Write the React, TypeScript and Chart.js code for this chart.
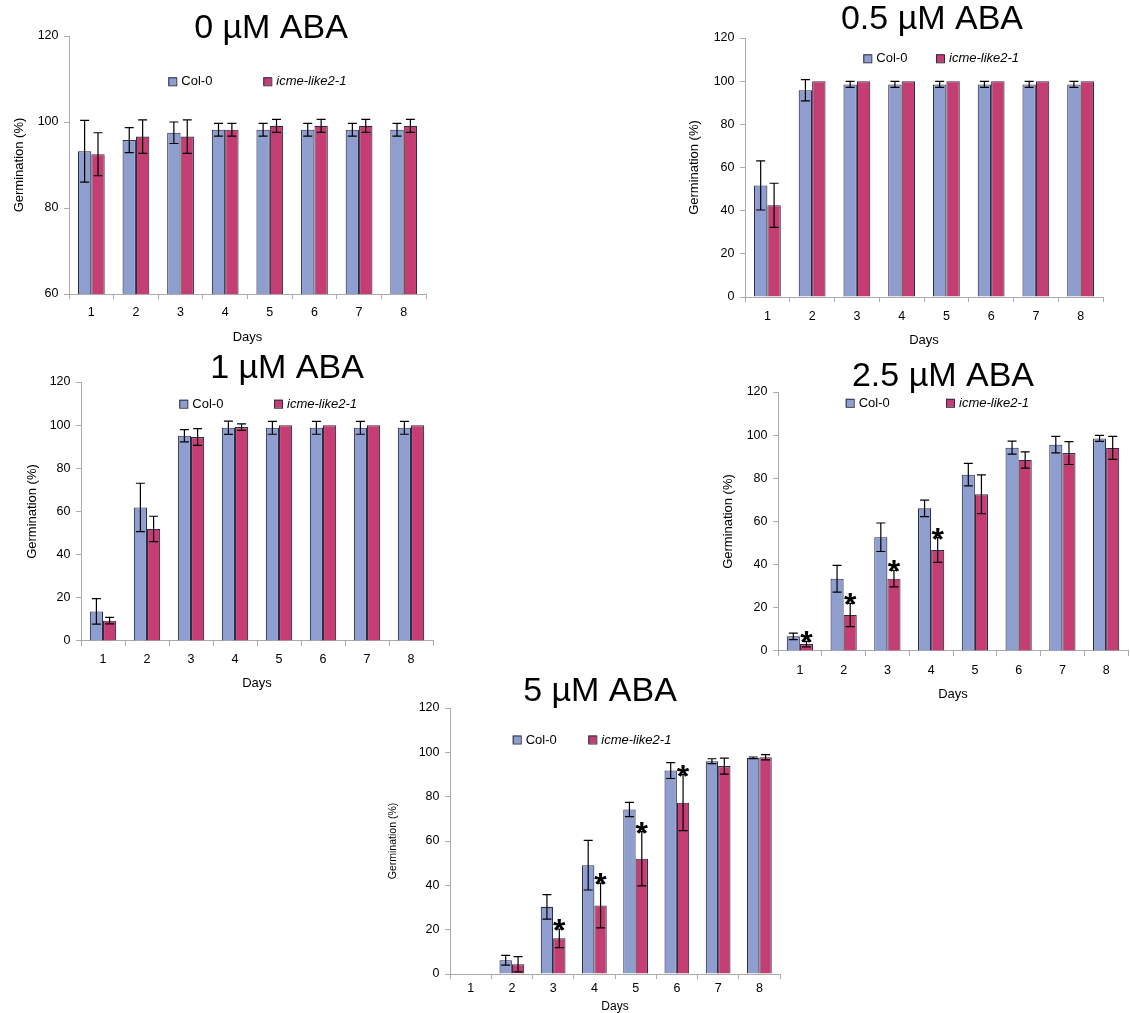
import React, { useEffect, useRef } from 'react';
import { Chart, registerables } from 'chart.js';

Chart.register(...registerables);

// ---------- data ----------
const days = ['1', '2', '3', '4', '5', '6', '7', '8'];
const seriesNames = ['Col-0', 'icme-like2-1'];

const col0_0 = [93.2, 95.8, 97.5, 98.2, 98.2, 98.2, 98.2, 98.2];
const col0_0Err = [7.2, 2.9, 2.5, 1.5, 1.5, 1.5, 1.5, 1.5];
const icme_0 = [92.5, 96.6, 96.6, 98.2, 99.1, 99.1, 99.1, 99.1];
const icme_0Err = [5.0, 3.9, 3.9, 1.5, 1.5, 1.5, 1.5, 1.5];
const sig_0 = [0, 0, 0, 0, 0, 0, 0, 0];

const col0_05 = [51.7, 95.8, 98.5, 98.5, 98.5, 98.5, 98.5, 98.5];
const col0_05Err = [11.4, 4.9, 1.4, 1.4, 1.4, 1.4, 1.4, 1.4];
const icme_05 = [42.5, 100, 100, 100, 100, 100, 100, 100];
const icme_05Err = [10.2, 0, 0, 0, 0, 0, 0, 0];
const sig_05 = [0, 0, 0, 0, 0, 0, 0, 0];

const col0_1 = [13.7, 61.9, 95.1, 98.8, 98.8, 98.8, 98.8, 98.8];
const col0_1Err = [5.9, 11.2, 2.8, 3.1, 3.0, 3.0, 3.0, 3.0];
const icme_1 = [9.4, 51.9, 94.5, 99.1, 100, 100, 100, 100];
const icme_1Err = [1.5, 5.9, 3.9, 1.5, 0, 0, 0, 0];
const sig_1 = [0, 0, 0, 0, 0, 0, 0, 0];

const col0_25 = [6.8, 33.5, 52.7, 66.1, 81.7, 94.2, 95.6, 98.5];
const col0_25Err = [1.5, 6.2, 6.6, 3.8, 5.2, 3.0, 3.8, 1.4];
const icme_25 = [3.2, 16.7, 33.5, 46.8, 72.6, 88.5, 91.7, 94.1];
const icme_25Err = [1.3, 5.4, 3.8, 5.7, 9.0, 3.8, 5.3, 5.3];
const sig_25 = [1, 1, 1, 1, 0, 0, 0, 0];

const col0_5 = [0, 6.2, 30.3, 49.1, 74.2, 91.8, 96.0, 97.5];
const col0_5Err = [0, 2.2, 5.5, 11.2, 3.2, 3.6, 1.1, 0.4];
const icme_5 = [0, 4.4, 16.1, 30.9, 52.0, 77.3, 93.8, 97.8];
const icme_5Err = [0, 3.4, 4.2, 10.1, 12.2, 12.6, 3.6, 1.2];
const sig_5 = [0, 0, 1, 1, 1, 1, 0, 0];

const titles = ['0 µM ABA', '0.5 µM ABA', '1 µM ABA', '2.5 µM ABA', '5 µM ABA'];
const yMins = [60, 0, 0, 0, 0];
const yMax = 120;
const yStep = 20;
const xTitle = 'Days';
const yTitle = 'Germination (%)';

// ---------- styles / layout ----------
const FONT = '"Liberation Sans", Arial, Helvetica, sans-serif';
const COL_COLOR = '#8E9FCF';
const ICME_COLOR = '#C43E74';
const BAR_BORDER = '#2C2C44';
const AXIS_COLOR = '#ABABAB';

type Layout = {
  cx: number; cy: number; cw: number; ch: number;
  l: number; t: number; r: number; b: number;
  titleX: number; titleY: number;
  legY: number; legCol: number; legIcme: number;
  yTitleX: number; yTitleSize: number;
  tickY: number; daysY: number; daysSize: number;
};

const layouts: Layout[] = [
  { cx: 0, cy: 0, cw: 440, ch: 350, l: 69, t: 36, r: 426, b: 294, titleX: 271, titleY: 29,
    legY: 81.3, legCol: 168.3, legIcme: 263.3, yTitleX: 19, yTitleSize: 13, tickY: 313, daysY: 337, daysSize: 13 },
  { cx: 680, cy: 0, cw: 450, ch: 350, l: 745, t: 38, r: 1103, b: 297, titleX: 932, titleY: 20,
    legY: 58.3, legCol: 863.3, legIcme: 936, yTitleX: 694, yTitleSize: 13, tickY: 317, daysY: 340, daysSize: 13 },
  { cx: 0, cy: 350, cw: 450, ch: 350, l: 81, t: 382, r: 433, b: 641, titleX: 287, titleY: 368.3,
    legY: 403.7, legCol: 179.3, legIcme: 274, yTitleX: 32, yTitleSize: 13, tickY: 660, daysY: 683, daysSize: 13 },
  { cx: 700, cy: 355, cw: 430, ch: 350, l: 778, t: 392, r: 1128, b: 651, titleX: 943, titleY: 376.7,
    legY: 402.8, legCol: 845.7, legIcme: 946, yTitleX: 728, yTitleSize: 13, tickY: 671, daysY: 694, daysSize: 13 },
  { cx: 380, cy: 668, cw: 420, ch: 347, l: 450, t: 708, r: 780, b: 974, titleX: 600, titleY: 691.7,
    legY: 739.5, legCol: 512.7, legIcme: 588.3, yTitleX: 393, yTitleSize: 10.5, tickY: 989, daysY: 1007, daysSize: 12 },
];

type PanelData = { col: number[]; colErr: number[]; icme: number[]; icmeErr: number[]; sig: number[] };
const panelData: PanelData[] = [
  { col: col0_0, colErr: col0_0Err, icme: icme_0, icmeErr: icme_0Err, sig: sig_0 },
  { col: col0_05, colErr: col0_05Err, icme: icme_05, icmeErr: icme_05Err, sig: sig_05 },
  { col: col0_1, colErr: col0_1Err, icme: icme_1, icmeErr: icme_1Err, sig: sig_1 },
  { col: col0_25, colErr: col0_25Err, icme: icme_25, icmeErr: icme_25Err, sig: sig_25 },
  { col: col0_5, colErr: col0_5Err, icme: icme_5, icmeErr: icme_5Err, sig: sig_5 },
];

const TICK_SIZE = 12.5;
const TICK_LEN = 5;

function Panel({ idx }: { idx: number }) {
  const ref = useRef<HTMLCanvasElement>(null);
  const L = layouts[idx];
  const D = panelData[idx];

  useEffect(() => {
    const canvas = ref.current;
    if (!canvas) return;
    const errs = [D.colErr, D.icmeErr];
    const colors = [COL_COLOR, ICME_COLOR];

    const deco = {
      id: 'deco' + idx,
      afterDatasetsDraw(chart: any) {
        const ctx = chart.ctx as CanvasRenderingContext2D;
        const ys = chart.scales.y;
        ctx.save();
        // error bars
        ctx.strokeStyle = '#000';
        ctx.lineWidth = 1.2;
        for (let d = 0; d < 2; d++) {
          const meta = chart.getDatasetMeta(d);
          const vals = chart.data.datasets[d].data as number[];
          meta.data.forEach((el: any, j: number) => {
            const e = errs[d][j];
            if (!e) return;
            const v = vals[j];
            const yt = ys.getPixelForValue(v + e);
            const yb = ys.getPixelForValue(Math.max(v - e, ys.min));
            const x = el.x;
            ctx.beginPath();
            ctx.moveTo(x, yt); ctx.lineTo(x, yb);
            ctx.moveTo(x - 4.5, yt); ctx.lineTo(x + 4.5, yt);
            ctx.moveTo(x - 4.5, yb); ctx.lineTo(x + 4.5, yb);
            ctx.stroke();
          });
        }
        // significance asterisks
        const meta1 = chart.getDatasetMeta(1);
        ctx.fillStyle = '#000';
        ctx.font = `bold 32px ${FONT}`;
        ctx.textAlign = 'center';
        ctx.textBaseline = 'alphabetic';
        meta1.data.forEach((el: any, j: number) => {
          if (!D.sig[j]) return;
          const v = D.icme[j] + D.icmeErr[j];
          const y = ys.getPixelForValue(v);
          ctx.fillText('*', el.x, y + 12);
        });
        ctx.restore();
      },
      afterDraw(chart: any) {
        const ctx = chart.ctx as CanvasRenderingContext2D;
        ctx.save();
        // title
        ctx.fillStyle = '#000';
        ctx.font = `34px ${FONT}`;
        ctx.textAlign = 'center';
        ctx.textBaseline = 'middle';
        ctx.fillText(titles[idx], L.titleX - L.cx, L.titleY - L.cy);
        // legend
        const xs = [L.legCol, L.legIcme];
        const ly = L.legY - L.cy;
        for (let k = 0; k < 2; k++) {
          const bx = xs[k] - L.cx;
          ctx.fillStyle = colors[k];
          ctx.fillRect(bx, ly - 4, 8, 8);
          ctx.strokeStyle = BAR_BORDER;
          ctx.lineWidth = 1;
          ctx.strokeRect(bx + 0.5, ly - 3.5, 8, 8);
          ctx.fillStyle = '#000';
          ctx.font = (k === 1 ? 'italic ' : '') + `13px ${FONT}`;
          ctx.textAlign = 'left';
          ctx.textBaseline = 'middle';
          ctx.fillText(seriesNames[k], bx + 13, ly + 0.5);
        }
        ctx.restore();
      },
    };

    const yAxisW = L.l - L.cx;
    const xAxisH = (L.daysY - L.b) + (L.daysSize * 1.2) / 2;
    const padBottom = L.cy + L.ch - (L.b + xAxisH);
    const xTickPad = L.tickY - L.b - TICK_LEN - (TICK_SIZE * 1.2) / 2;

    const chart = new Chart(canvas, {
      type: 'bar',
      data: {
        labels: days,
        datasets: [
          { label: seriesNames[0], data: D.col, backgroundColor: COL_COLOR, borderColor: BAR_BORDER,
            borderWidth: 1.1, categoryPercentage: 0.6, barPercentage: 1 },
          { label: seriesNames[1], data: D.icme, backgroundColor: ICME_COLOR, borderColor: BAR_BORDER,
            borderWidth: 1.1, categoryPercentage: 0.6, barPercentage: 1 },
        ],
      },
      options: {
        responsive: false,
        animation: false,
        devicePixelRatio: 1,
        layout: {
          padding: { left: 0, top: L.t - L.cy, right: L.cx + L.cw - L.r, bottom: padBottom },
        },
        plugins: {
          legend: { display: false },
          tooltip: { enabled: false },
          title: { display: false },
        },
        scales: {
          x: {
            grid: { drawOnChartArea: false, tickLength: TICK_LEN, color: AXIS_COLOR, offset: true },
            border: { color: AXIS_COLOR },
            ticks: { color: '#000', font: { family: FONT, size: TICK_SIZE }, padding: xTickPad, maxRotation: 0 },
            title: { display: true, text: xTitle, color: '#000', font: { family: FONT, size: L.daysSize },
              padding: { top: 0, bottom: 0 } },
            afterFit: (s: any) => { s.height = xAxisH; },
          },
          y: {
            min: yMins[idx],
            max: yMax,
            grid: { drawOnChartArea: false, tickLength: TICK_LEN, color: AXIS_COLOR },
            border: { color: AXIS_COLOR },
            ticks: { stepSize: yStep, color: '#000', font: { family: FONT, size: TICK_SIZE }, padding: 5.5 },
            title: { display: true, text: yTitle, color: '#000', font: { family: FONT, size: L.yTitleSize },
              padding: { top: L.yTitleX - L.cx - (L.yTitleSize * 1.2) / 2, bottom: 0 } },
            afterFit: (s: any) => { s.width = yAxisW; },
          },
        },
      },
      plugins: [deco],
    } as any);
    return () => chart.destroy();
  }, []);

  return (
    <canvas
      ref={ref}
      width={L.cw}
      height={L.ch}
      style={{ position: 'absolute', left: L.cx, top: L.cy, width: L.cw, height: L.ch }}
    />
  );
}

export default function App() {
  return (
    <div style={{ position: 'fixed', left: 0, top: 0, width: 1130, height: 1013, overflow: 'hidden', background: '#fff' }}>
      {layouts.map((_, i) => (
        <Panel key={i} idx={i} />
      ))}
    </div>
  );
}
